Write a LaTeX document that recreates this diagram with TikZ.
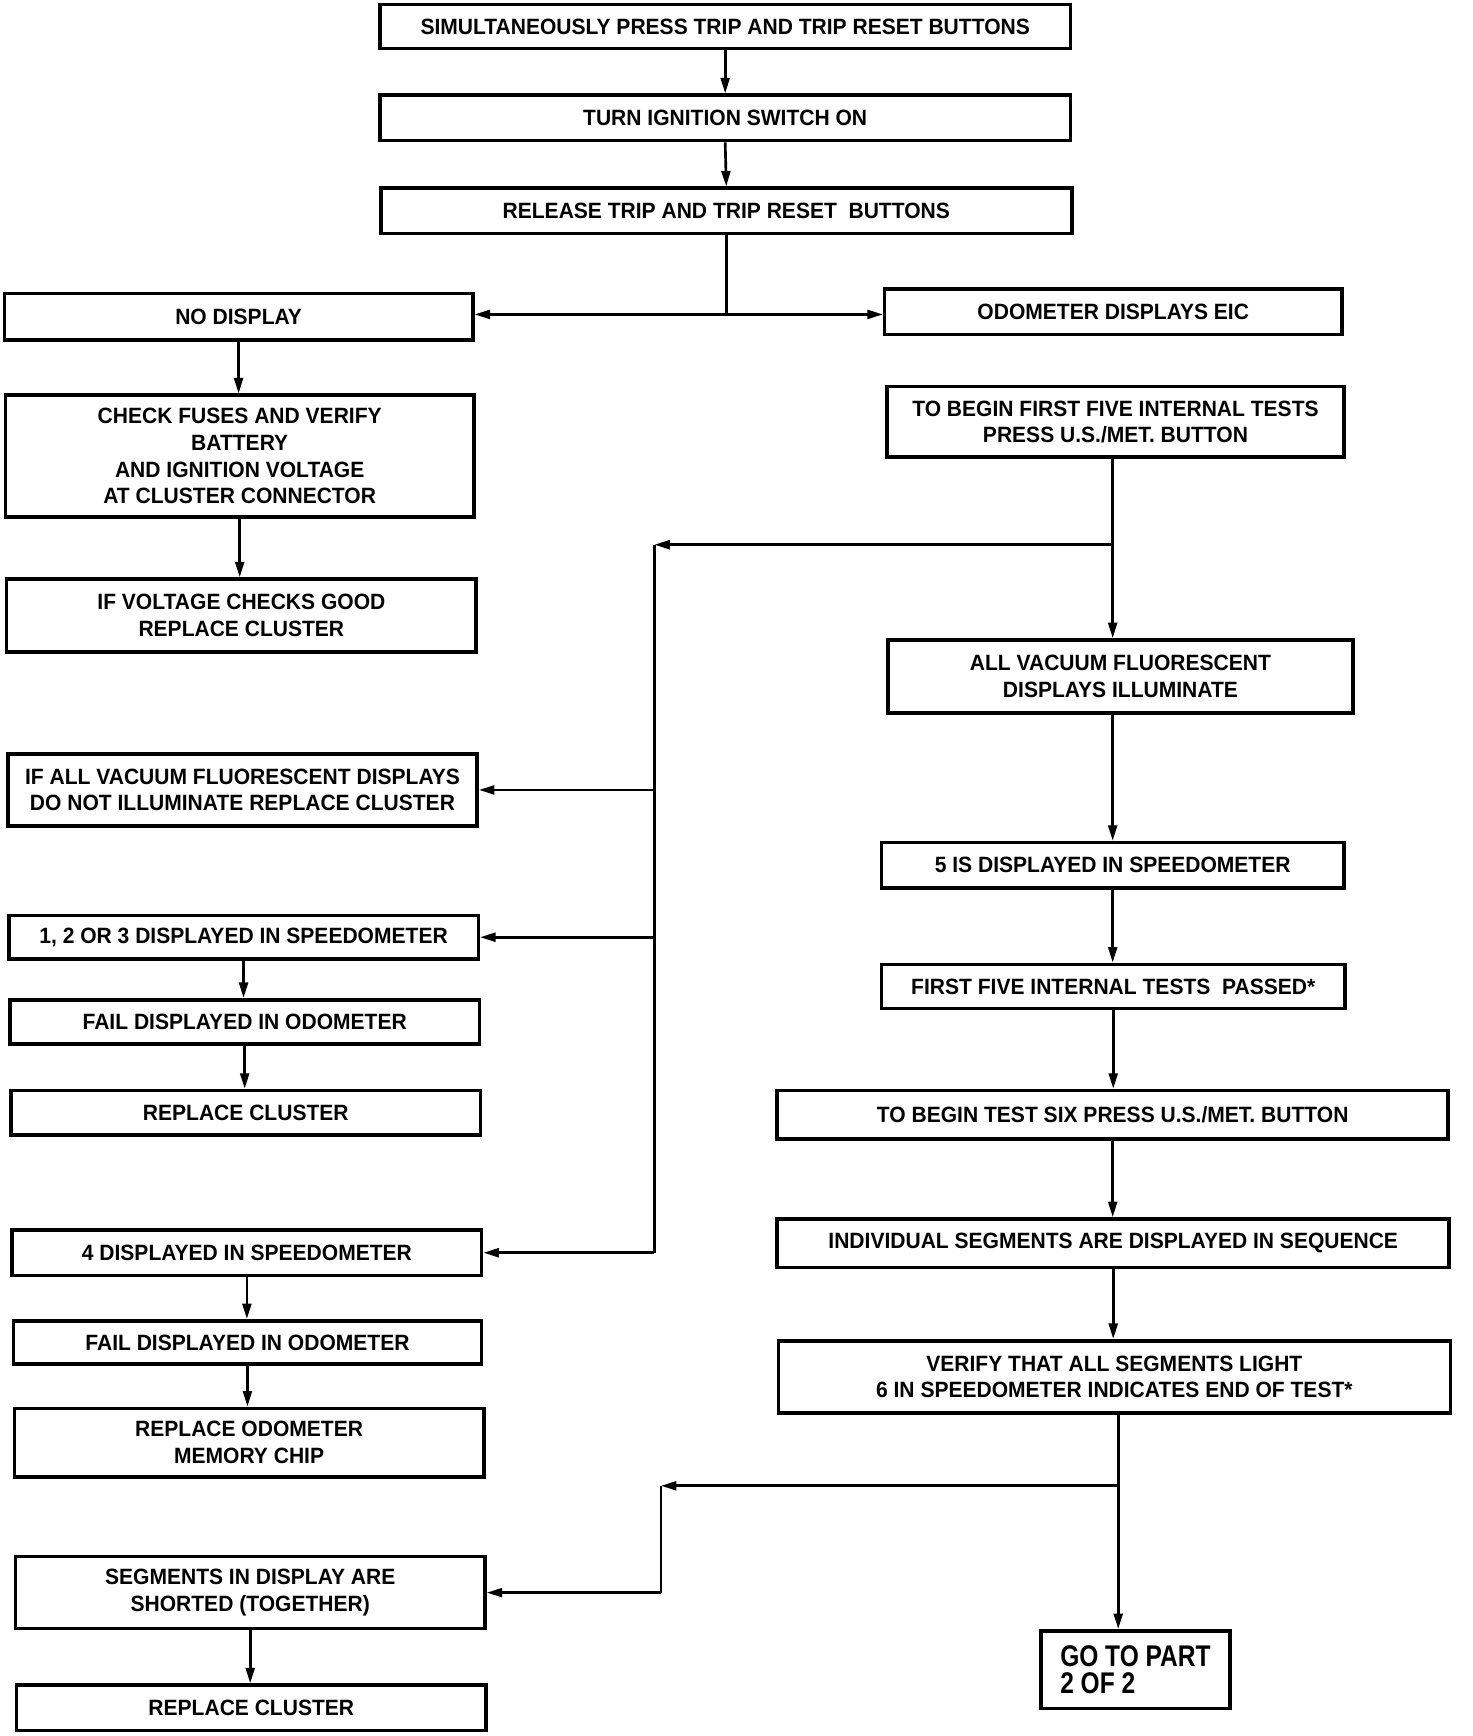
\documentclass[tikz,border=0pt]{standalone}
\usepackage{fontspec}
\setmainfont{Liberation Sans}[FakeStretch=0.95]
\newfontfamily\condfont{Liberation Sans}[FakeStretch=0.82]
\usetikzlibrary{arrows.meta,calc}
\begin{document}
\begin{tikzpicture}[x=0.5pt,y=-0.5pt,
  box/.style={draw=black, line width=1.6pt, rectangle, inner sep=0pt, align=center,
    font=\fontsize{10}{12}\selectfont\bfseries},
  line/.style={draw=black, line width=1.2pt},
  arr/.style={line, -{Triangle[length=7pt,width=4pt]}}]
\useasboundingbox (0,0) rectangle (1329.6,1568);
% left / top column
\node[box, minimum width=312pt, minimum height=20pt] (n1) at (655,24) {SIMULTANEOUSLY PRESS TRIP AND TRIP RESET BUTTONS};
\node[box, minimum width=312pt, minimum height=20.5pt] (n2) at (655,106.5) {TURN IGNITION SWITCH ON};
\node[box, minimum width=312pt, minimum height=20.5pt] (n3) at (656,190.5) {RELEASE TRIP AND TRIP RESET\ \ BUTTONS};
\node[box, minimum width=211.5pt, minimum height=21pt] (n4) at (215.5,286) {NO DISPLAY};
\node[box, minimum width=206.5pt, minimum height=20.5pt] (n5) at (1005.5,281.5) {ODOMETER DISPLAYS EIC};
\node[box, minimum width=211.5pt, minimum height=55pt] (n6) at (216.5,412) {CHECK FUSES AND VERIFY\\BATTERY\\AND IGNITION VOLTAGE\\AT CLUSTER CONNECTOR};
\node[box, minimum width=212pt, minimum height=33pt] (n7) at (218,556) {IF VOLTAGE CHECKS GOOD\\REPLACE CLUSTER};
\node[box, minimum width=206.5pt, minimum height=32pt] (n8) at (1007.5,381) {TO BEGIN FIRST FIVE INTERNAL TESTS\\PRESS U.S./MET. BUTTON};
\node[box, minimum width=210pt, minimum height=33pt] (n9) at (1012,611) {ALL VACUUM FLUORESCENT\\DISPLAYS ILLUMINATE};
\node[box, minimum width=212pt, minimum height=32.5pt] (n10) at (219,713.5) {IF ALL VACUUM FLUORESCENT DISPLAYS\\DO NOT ILLUMINATE REPLACE CLUSTER};
\node[box, minimum width=209pt, minimum height=20.5pt] (n11) at (1005,781.5) {5 IS DISPLAYED IN SPEEDOMETER};
\node[box, minimum width=212pt, minimum height=19.5pt] (n12) at (220,846.5) {1, 2 OR 3 DISPLAYED IN SPEEDOMETER};
\node[box, minimum width=212pt, minimum height=20pt] (n13) at (221,923) {FAIL DISPLAYED IN ODOMETER};
\node[box, minimum width=212pt, minimum height=20pt] (n14) at (222,1005) {REPLACE CLUSTER};
\node[box, minimum width=209.5pt, minimum height=20pt] (n15) at (1005.5,891) {FIRST FIVE INTERNAL TESTS\ \ PASSED*};
\node[box, minimum width=303pt, minimum height=22pt] (n16) at (1005,1007) {TO BEGIN TEST SIX PRESS U.S./MET. BUTTON};
\node[box, minimum width=303.5pt, minimum height=22pt] (n17) at (1005.5,1123) {INDIVIDUAL SEGMENTS ARE DISPLAYED IN SEQUENCE};
\node[box, minimum width=303.5pt, minimum height=32.5pt] (n18) at (1006.5,1243.5) {VERIFY THAT ALL SEGMENTS LIGHT\\6 IN SPEEDOMETER INDICATES END OF TEST*};
\node[box, minimum width=212pt, minimum height=20.5pt] (n19) at (223,1131.5) {4 DISPLAYED IN SPEEDOMETER};
\node[box, minimum width=211.5pt, minimum height=19.5pt] (n20) at (223.5,1212.5) {FAIL DISPLAYED IN ODOMETER};
\node[box, minimum width=212pt, minimum height=31pt] (n21) at (225,1303) {REPLACE ODOMETER\\MEMORY CHIP};
\node[box, minimum width=212pt, minimum height=32.5pt] (n22) at (226,1438.5) {SEGMENTS IN DISPLAY ARE\\SHORTED (TOGETHER)};
\node[box, minimum width=212pt, minimum height=20.5pt] (n23) at (227,1542.5) {REPLACE CLUSTER};
\node[box, minimum width=85.5pt, minimum height=35pt, align=left,
  font=\fontsize{13.5}{12.5}\condfont\bfseries] (n24) at (1025.5,1508) {GO TO PART\\2 OF 2};
% junction coordinates
\coordinate (j1) at (656,284);
\coordinate (j2) at (1005,492);
\coordinate (c1) at (591,492);
\coordinate (j3) at (1010,1342);
\coordinate (c3) at (597,1342);
% connectors, top
\draw[arr] (n1.south) -- (n2.north);
\draw[arr] (n2.south) -- (n3.north);
\draw[line] (n3.south) -- (j1);
\draw[arr] (j1) -- (n4.east |- j1);
\draw[arr] (j1) -- (n5.west |- j1);
% left no-display chain
\draw[arr] (n4.south) -- (n4.south |- n6.north);
\draw[arr] (n6.south) -- (n6.south |- n7.north);
% right chain
\draw[arr] (j2 |- n8.south) -- (j2 |- n9.north);
\draw[arr] (j2) -- (c1);
\draw[line] (c1) -- (c1 |- n19.east);
\draw[arr] (c1 |- n10.east) -- (n10.east);
\draw[arr] (c1 |- n12.east) -- (n12.east);
\draw[arr] (c1 |- n19.east) -- (n19.east);
\draw[arr] (n11.north |- n9.south) -- (n11.north);
\draw[arr] (n11.south) -- (n11.south |- n15.north);
\draw[arr] (n15.south) -- (n15.south |- n16.north);
\draw[arr] (n16.south) -- (n16.south |- n17.north);
\draw[arr] (n17.south) -- (n17.south |- n18.north);
\draw[arr] (j3 |- n18.south) -- (j3 |- n24.north);
\draw[arr] (j3) -- (c3);
\draw[line] (c3) -- (c3 |- n22.east);
\draw[arr] (c3 |- n22.east) -- (n22.east);
% left chains
\draw[arr] (n12.south) -- (n12.south |- n13.north);
\draw[arr] (n13.south) -- (n13.south |- n14.north);
\draw[arr] (n19.south) -- (n19.south |- n20.north);
\draw[arr] (n20.south) -- (n20.south |- n21.north);
\draw[arr] (n22.south) -- (n22.south |- n23.north);
\end{tikzpicture}
\end{document}
